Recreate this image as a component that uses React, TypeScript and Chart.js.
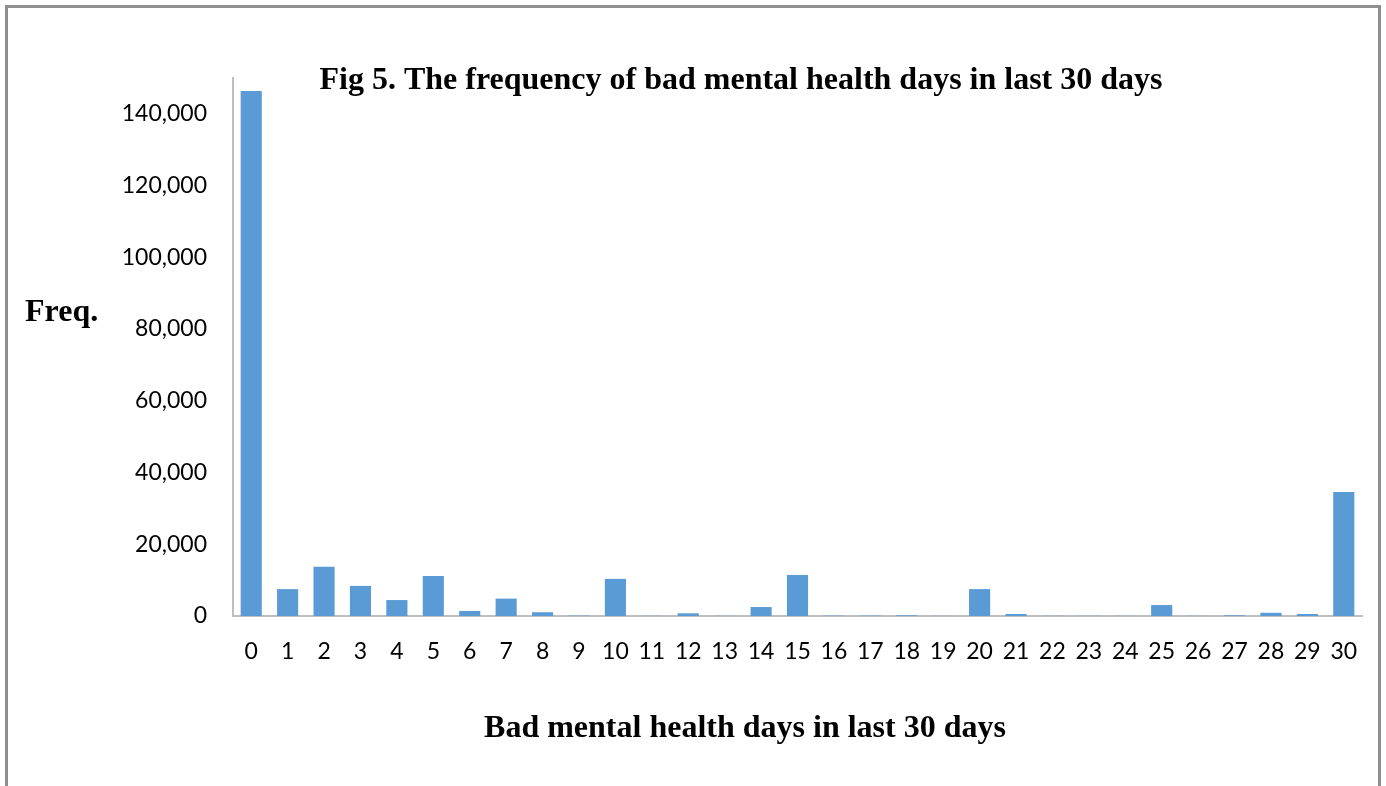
import React, { useEffect, useRef } from "react";
import { Chart, registerables } from "chart.js";

Chart.register(...registerables);

const categories: string[] = [
  "0", "1", "2", "3", "4", "5", "6", "7", "8", "9", "10",
  "11", "12", "13", "14", "15", "16", "17", "18", "19", "20",
  "21", "22", "23", "24", "25", "26", "27", "28", "29", "30",
];

const frequencies: number[] = [
  146400, 7500, 13700, 8400, 4450, 11150, 1400, 4850, 1050, 100, 10350,
  50, 750, 30, 2500, 11450, 100, 100, 200, 30, 7500,
  550, 50, 50, 30, 3050, 30, 200, 900, 550, 34600,
];

const yMax = 150000;
const yTickValues: number[] = [0, 20000, 40000, 60000, 80000, 100000, 120000, 140000];

const chartTitle = "Fig 5. The frequency of bad mental health days in last 30 days";
const yTitle = "Freq.";
const xTitle = "Bad mental health days in last 30 days";

const W = 1386;
const H = 786;

const textPlugin = {
  id: "customTexts",
  afterDraw(chart: any) {
    const ctx = chart.ctx as CanvasRenderingContext2D;
    ctx.save();
    ctx.fillStyle = "#000000";
    ctx.font = "bold 32px 'Liberation Serif', 'Times New Roman', serif";
    ctx.textBaseline = "middle";
    ctx.textAlign = "center";
    ctx.fillText(chartTitle, 741, 81);
    ctx.fillText(xTitle, 745, 729);
    ctx.textAlign = "left";
    ctx.fillText(yTitle, 25, 313);
    ctx.restore();
  },
};

export default function App() {
  const canvasRef = useRef<HTMLCanvasElement | null>(null);

  useEffect(() => {
    if (!canvasRef.current) return;
    const chart = new Chart(canvasRef.current, {
      type: "bar",
      data: {
        labels: categories,
        datasets: [
          {
            data: frequencies,
            backgroundColor: "#5b9bd5",
            borderWidth: 0,
            barPercentage: 1,
            categoryPercentage: 0.58,
          },
        ],
      },
      options: {
        animation: false,
        responsive: false,
        devicePixelRatio: 1,
        layout: { padding: { left: 0, right: 24, top: 78, bottom: 0 } },
        plugins: {
          legend: { display: false },
          title: { display: false },
          tooltip: { enabled: false },
        },
        scales: {
          x: {
            grid: { display: false, drawTicks: false },
            border: { display: true, color: "#bfbfbf", width: 2 },
            ticks: {
              color: "#000000",
              font: { family: "Lato, 'Open Sans', sans-serif", size: 23 },
              padding: 22,
              maxRotation: 0,
              autoSkip: false,
            },
            afterFit(scale: any) {
              scale.height = 170;
            },
          },
          y: {
            min: 0,
            max: yMax,
            grid: { display: false, drawTicks: false },
            border: { display: true, color: "#bfbfbf", width: 2 },
            ticks: {
              color: "#000000",
              font: { family: "Lato, 'Open Sans', sans-serif", size: 23 },
              padding: 26,
              autoSkip: false,
              callback: (v: any) => Number(v).toLocaleString("en-US"),
            },
            afterBuildTicks(scale: any) {
              scale.ticks = yTickValues.map((value) => ({ value }));
            },
            afterFit(scale: any) {
              scale.width = 233;
            },
          },
        },
      },
      plugins: [textPlugin],
    });
    return () => chart.destroy();
  }, []);

  return (
    <div style={{ position: "fixed", left: 0, top: 0, width: W, height: H, background: "#ffffff" }}>
      <div
        style={{
          position: "absolute",
          left: 5,
          top: 5,
          width: 1370,
          height: 790,
          border: "3px solid #8f8f8f",
          boxSizing: "content-box",
        }}
      />
      <canvas
        ref={canvasRef}
        width={W}
        height={H}
        style={{ position: "absolute", left: 0, top: 0, width: W, height: H }}
      />
    </div>
  );
}
